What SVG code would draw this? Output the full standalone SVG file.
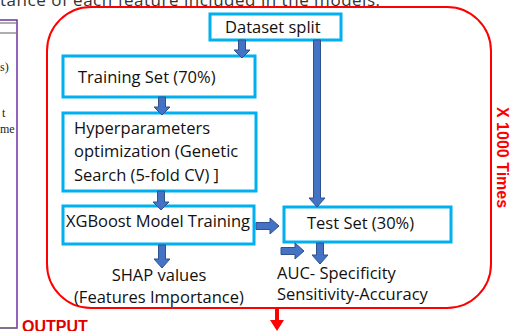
<svg xmlns="http://www.w3.org/2000/svg" width="513" height="331" viewBox="0 0 513 331">
  <defs>
    <style>
      .box { fill: #ffffff; stroke: #00B0F0; stroke-width: 3; }
      .lbl { font-family: "Open Sans", "Liberation Sans", sans-serif; font-size: 16.5px; fill: #111111; }
      .arr { fill: #4472C4; stroke: #2F528F; stroke-width: 1; }
      .red { fill: #FF0000; }
    </style>
  </defs>
  <rect width="513" height="331" fill="#ffffff"/>

  <!-- caption line above the figure -->
  <text x="0" y="6" font-family="'Open Sans', sans-serif" font-size="17" fill="#333333" textLength="380">tance of each feature included in the models.</text>

  <!-- neighbouring panel on the left -->
  <g id="left-panel">
    <rect x="-10" y="20" width="27" height="308" fill="none" stroke="#7030A0" stroke-width="1.5"/>
    <line x1="-10" y1="23" x2="17" y2="23" stroke="#777777" stroke-width="1.2"/>
    <line x1="-10" y1="33" x2="17" y2="33" stroke="#777777" stroke-width="1.2"/>
    <line x1="-10" y1="328" x2="17" y2="328" stroke="#777777" stroke-width="1.2"/>
    <g font-family="'Liberation Serif', serif" font-size="12" fill="#222222">
      <text x="0" y="71">s)</text>
      <text x="2" y="117">t</text>
      <text x="0" y="133">me</text>
    </g>
  </g>

  <!-- repetition loop -->
  <g id="loop">
    <rect x="47" y="7" width="444" height="301" rx="44" ry="44" fill="none" stroke="#FF0000" stroke-width="2"/>
    <text transform="translate(497,107) rotate(90)" font-family="'Liberation Sans', sans-serif" font-weight="bold" font-size="16" fill="#FF0000">X 1000 Times</text>
  </g>

  <g id="dataset-split">
    <rect class="box" x="210" y="14" width="131" height="26"/>
    <text class="lbl" x="225" y="33">Dataset split</text>
  </g>

  <g id="training-set">
    <rect class="box" x="63" y="56" width="192" height="41"/>
    <text class="lbl" x="78" y="83">Training Set (70%)</text>
  </g>

  <g id="hyperparameters">
    <rect class="box" x="63" y="113" width="193" height="78"/>
    <text class="lbl" x="74" y="134">Hyperparameters</text>
    <text class="lbl" x="74" y="157">optimization (Genetic</text>
    <text class="lbl" x="74" y="181">Search (5-fold CV) ]</text>
  </g>

  <g id="xgboost">
    <rect class="box" x="63" y="206" width="191" height="38"/>
    <text class="lbl" x="66" y="227" textLength="184">XGBoost Model Training</text>
  </g>

  <g id="test-set">
    <rect class="box" x="284" y="207" width="167" height="35"/>
    <text class="lbl" x="307" y="229">Test Set (30%)</text>
  </g>

  <g id="shap">
    <text class="lbl" x="159" y="281" text-anchor="middle">SHAP values</text>
    <text class="lbl" x="74" y="303">(Features Importance)</text>
  </g>

  <g id="metrics">
    <text class="lbl" x="277" y="279">AUC- Specificity</text>
    <text class="lbl" x="277" y="300">Sensitivity-Accuracy</text>
  </g>

  <g id="output">
    <text x="22" y="332" font-family="'Liberation Sans', sans-serif" font-weight="bold" font-size="16" fill="#E00000">OUTPUT</text>
  </g>

  <!-- connectors -->
  <g id="connectors">
    <!-- split to training set -->
    <polygon class="arr" points="238.5,40 245.5,40 245.5,50 250,50 242,58 234,50 238.5,50"/>
    <!-- split to test set -->
    <polygon class="arr" points="313.5,40 320.5,40 320.5,198 325,198 317,207 309,198 313.5,198"/>
    <!-- training set to hyperparameters -->
    <polygon class="arr" points="158.5,97 165.5,97 165.5,107 170,107 162,115 154,107 158.5,107"/>
    <!-- hyperparameters to model training -->
    <polygon class="arr" points="157.5,191 164.5,191 164.5,202 169,202 161,210 153,202 157.5,202"/>
    <!-- model training to SHAP values -->
    <polygon class="arr" points="158.5,245 165.5,245 165.5,259 170,259 162,268 154,259 158.5,259"/>
    <!-- model training to test set -->
    <polygon class="arr" points="256,222.5 270,222.5 270,218 279,226 270,234 270,229.5 256,229.5"/>
    <!-- model into evaluation -->
    <polygon class="arr" points="281,247.5 295,247.5 295,243 304,251 295,259 295,254.5 281,254.5"/>
    <!-- test set to metrics -->
    <polygon class="arr" points="316.5,243 323.5,243 323.5,255 328,255 320,264 312,255 316.5,255"/>
    <!-- loop output -->
    <polygon class="red" points="275,308 279,308 279,320 284,320 277,331 270,320 275,320"/>
  </g>
</svg>
